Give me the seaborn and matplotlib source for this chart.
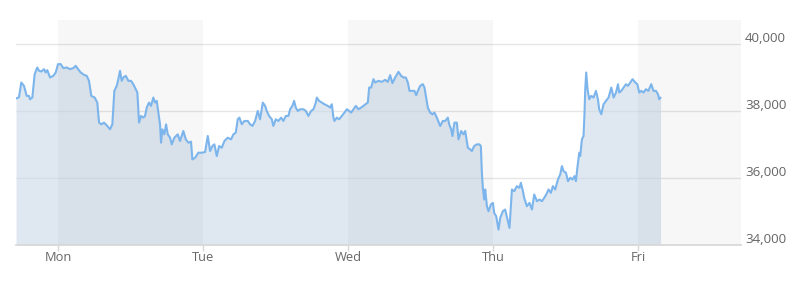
import pandas as pd
import seaborn as sns
import matplotlib
matplotlib.use('Agg')
import matplotlib.pyplot as plt
from matplotlib.transforms import ScaledTranslation

# hours since Monday 00:00 and price level
hours = [-6.95, -6.46, -6.07, -5.63, -5.18, -4.80, -4.63, -4.25, -3.86, -3.43,
         -3.14, -2.76, -2.32, -2.04, -1.77, -1.32, -0.78, -0.38, 0.00, 0.45,
         0.88, 1.44, 1.99, 2.53, 2.93, 3.31, 3.76, 4.30, 4.75, 5.13,
         5.51, 6.07, 6.50, 6.79, 7.17, 7.61, 8.16, 8.61, 8.99, 9.32,
         9.72, 9.98, 10.26, 10.54, 10.81, 11.21, 11.64, 12.08, 12.46, 12.86,
         13.13, 13.41, 13.74, 14.12, 14.40, 14.68, 15.06, 15.39, 15.77, 16.06,
         16.34, 16.60, 16.88, 17.05, 17.26, 17.59, 17.88, 18.16, 18.54, 18.82,
         19.25, 19.81, 20.19, 20.74, 21.14, 21.57, 22.01, 22.23, 22.68, 23.22,
         23.78, 24.33, 24.78, 25.16, 25.54, 25.87, 26.27, 26.65, 27.10, 27.53,
         28.09, 28.63, 29.02, 29.41, 29.74, 30.01, 30.41, 30.84, 31.40, 31.78,
         32.16, 32.61, 33.05, 33.43, 33.88, 34.26, 34.54, 34.92, 35.37, 35.63,
         36.03, 36.46, 36.91, 37.29, 37.69, 38.12, 38.40, 38.78, 39.06, 39.34,
         39.67, 40.06, 40.60, 41.00, 41.43, 41.88, 42.26, 42.65, 42.82, 43.20,
         43.65, 44.08, 44.64, 45.02, 45.30, 45.57, 45.73, 46.13, 46.51, 46.96,
         47.39, 47.79, 48.17, 48.50, 48.88, 49.28, 49.71, 50.15, 50.53, 50.93,
         51.26, 51.48, 51.81, 52.19, 52.47, 53.02, 53.58, 54.12, 54.57, 54.95,
         55.33, 55.78, 56.33, 56.77, 57.15, 57.55, 57.88, 58.15, 58.54, 58.97,
         59.26, 59.54, 59.92, 60.36, 60.63, 60.86, 61.19, 61.57, 61.95, 62.28,
         62.68, 63.23, 63.67, 64.06, 64.50, 64.72, 65.05, 65.26, 65.59, 65.99,
         66.26, 66.70, 67.08, 67.37, 67.81, 68.19, 68.47, 68.85, 69.30, 69.73,
         69.96, 70.13, 70.29, 70.51, 70.68, 70.96, 71.22, 71.62, 71.95, 72.17,
         72.50, 72.88, 73.16, 73.60, 73.98, 74.37, 74.70, 75.10, 75.48, 75.92,
         76.35, 76.58, 76.92, 77.13, 77.58, 78.01, 78.41, 78.79, 79.24, 79.67,
         80.06, 80.45, 80.77, 81.16, 81.55, 81.88, 82.26, 82.71, 83.09, 83.37,
         83.64, 84.04, 84.37, 84.75, 85.13, 85.46, 85.69, 85.96, 86.24, 86.40,
         86.68, 86.95, 87.11, 87.23, 87.39, 87.61, 87.89, 88.22, 88.60, 89.00,
         89.33, 89.54, 89.88, 90.26, 90.66, 91.09, 91.54, 91.92, 92.32, 92.65,
         92.86, 93.19, 93.57, 93.97, 94.30, 94.68, 95.06, 95.51, 95.84, 96.17,
         96.50, 96.88, 97.28, 97.67, 98.15, 98.53, 98.93, 99.26, 99.48, 99.69]
price = [38380, 38420, 38860, 38760, 38460, 38460, 38360, 38410, 39110, 39310,
         39210, 39190, 39260, 39160, 39230, 39010, 39060, 39160, 39410, 39410,
         39290, 39310, 39260, 39290, 39360, 39260, 39160, 39090, 39060, 38910,
         38460, 38410, 38260, 37660, 37610, 37660, 37560, 37460, 37610, 38610,
         38760, 38960, 39210, 38910, 39010, 39060, 38910, 38910, 38810, 38660,
         38560, 37660, 37860, 37810, 37860, 38110, 38260, 38160, 38410, 38260,
         38310, 37960, 37610, 37060, 37460, 37310, 37610, 37310, 37210, 37010,
         37210, 37310, 37110, 37410, 37160, 37060, 37090, 36560, 36610, 36760,
         36760, 36780, 37260, 36810, 36960, 37010, 36660, 36960, 36910, 37110,
         37210, 37160, 37310, 37360, 37760, 37810, 37610, 37710, 37710, 37610,
         37560, 37710, 38010, 37760, 38260, 38160, 38010, 37860, 37760, 37560,
         37760, 37710, 37810, 37710, 37860, 37860, 38060, 38160, 38310, 38110,
         38010, 38060, 38060, 38010, 37860, 38010, 38060, 38260, 38410, 38310,
         38260, 38210, 38160, 38110, 38210, 37810, 37710, 37810, 37760, 37860,
         37960, 38060, 38010, 37960, 38060, 38160, 38060, 38110, 38160, 38210,
         38260, 38710, 38710, 38960, 38860, 38910, 38880, 38940, 38880, 39080,
         38840, 39010, 39180, 39060, 39010, 39010, 38860, 38610, 38610, 38610,
         38480, 38610, 38760, 38810, 38710, 38460, 38110, 37960, 37910, 37960,
         37810, 37560, 37710, 37710, 37810, 37610, 37460, 37260, 37660, 37660,
         37160, 37410, 37310, 37410, 36910, 36860, 36810, 36960, 37010, 37010,
         36960, 36160, 35710, 35360, 35660, 35160, 35010, 35210, 35260, 34960,
         34860, 34460, 34810, 35010, 35060, 34760, 34510, 35660, 35610, 35760,
         35710, 35860, 35610, 35410, 35160, 35260, 35060, 35510, 35310, 35360,
         35310, 35410, 35510, 35660, 35560, 35760, 35660, 35960, 36110, 36360,
         36210, 36160, 35910, 36010, 35960, 36060, 35910, 36360, 36760, 36660,
         37160, 37260, 37960, 38660, 39160, 38660, 38360, 38460, 38410, 38610,
         38360, 38060, 37910, 38210, 38310, 38410, 38710, 38410, 38560, 38810,
         38560, 38610, 38710, 38810, 38760, 38860, 38960, 38860, 38810, 38560,
         38610, 38560, 38660, 38610, 38810, 38610, 38610, 38510, 38360, 38410]

day_names = ['Mon', 'Tue', 'Wed', 'Thu', 'Fri']
day_hours = [0, 24, 48, 72, 96]
y_ticks = [34000, 36000, 38000, 40000]

sns.set_theme(style='white')
plt.rcParams['font.family'] = ['Open Sans', 'DejaVu Sans']

df = pd.DataFrame({'hour': hours, 'price': price})

fig = plt.figure(figsize=(8, 3), dpi=100)
ax = fig.add_axes([16 / 800, 55 / 300, 725 / 800, 225 / 300])

ax.yaxis.grid(True, color='#e6e6e6', linewidth=1, zorder=0)
ax.set_axisbelow(True)

ax.fill_between(df['hour'], df['price'], 34000, color='#cbdae9', alpha=0.6,
                linewidth=0, zorder=1)
# alternating day bands
for start in day_hours[::2]:
    ax.axvspan(start, start + 24, color='black', alpha=0.03, linewidth=0, zorder=1.5)

sns.lineplot(data=df, x='hour', y='price', ax=ax, color='#7cb5ec',
             linewidth=1.5, sort=False, errorbar=None, zorder=2)

ax.set_xlim(-6.95, 113.0)
ax.set_ylim(34000, 40730)
ax.set_xticks(day_hours, labels=day_names)
ax.set_yticks(y_ticks, labels=[f'{v:,}' for v in y_ticks])
ax.yaxis.tick_right()
ax.tick_params(axis='y', length=0, pad=3, labelsize=9.6, labelcolor='#666666')
ax.tick_params(axis='x', bottom=True, length=4, color='#d8d8d8', width=1,
               pad=0.5, labelsize=9.3, labelcolor='#666666')
for lab in ax.get_yticklabels():
    lab.set_transform(lab.get_transform() + ScaledTranslation(0, 0.07, fig.dpi_scale_trans))

for side in ['top', 'left', 'right']:
    ax.spines[side].set_visible(False)
ax.spines['bottom'].set_color('#d8d8d8')
ax.set_xlabel('')
ax.set_ylabel('')

fig.savefig('out.png', dpi=100)
